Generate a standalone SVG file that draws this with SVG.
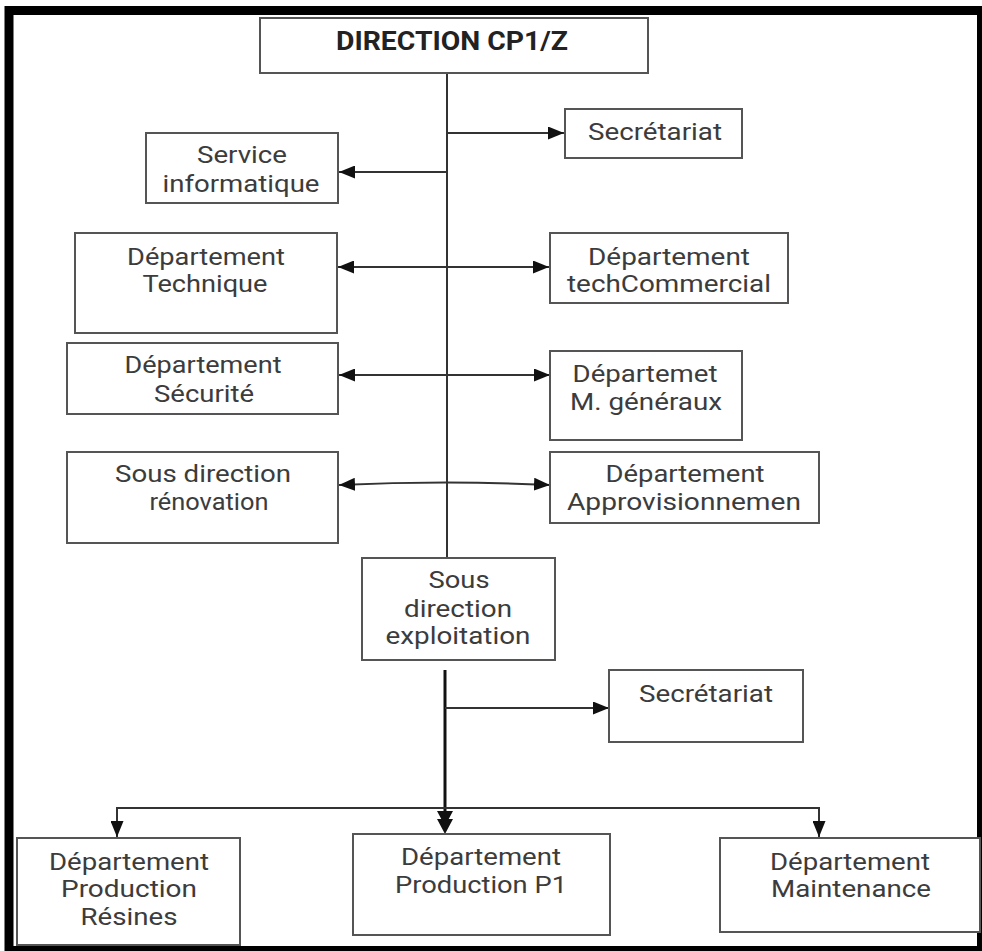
<svg xmlns="http://www.w3.org/2000/svg" width="982" height="951" viewBox="0 0 982 951">
<style>
.box{fill:#fff;stroke:#555;stroke-width:2}
.t{font-family:Roboto,"Liberation Sans",sans-serif;font-size:23px;fill:#3c3c3c;text-anchor:middle}
.title{font-family:Roboto,"Liberation Sans",sans-serif;font-size:25px;font-weight:700;fill:#222;text-anchor:middle}
.c{fill:none;stroke:#333;stroke-width:2}
.ct{fill:none;stroke:#111;stroke-width:3}
</style>
<defs>
<marker id="ah" viewBox="0 0 10 10" preserveAspectRatio="none" refX="10" refY="5" markerWidth="8" markerHeight="6.5" markerUnits="strokeWidth" orient="auto-start-reverse">
<path d="M0,0 L10,5 L0,10 Z" fill="#111"/>
</marker>
</defs>
<rect x="9" y="10.5" width="972.5" height="940" fill="#fff" stroke="#000" stroke-width="9"/>
<g id="connectors">
<path class="c" d="M447,73 V558"/>
<path class="c" d="M447,133 H564" marker-end="url(#ah)"/>
<path class="c" d="M447,172 H339" marker-end="url(#ah)"/>
<path class="c" d="M338,267 H549" marker-start="url(#ah)" marker-end="url(#ah)"/>
<path class="c" d="M339,375 H550" marker-start="url(#ah)" marker-end="url(#ah)"/>
<path class="c" d="M339,485 Q447,480 550,485" marker-start="url(#ah)" marker-end="url(#ah)"/>
<path class="ct" d="M445,670 V820"/>
<path class="c" d="M445,708 H609" marker-end="url(#ah)"/>
<path class="c" d="M117,837 V808 H819 V837" marker-start="url(#ah)" marker-end="url(#ah)"/>
<path d="M437,811 L453,811 L445,826 Z M437,819 L453,819 L445,834 Z" fill="#111"/>
</g>
<g id="n-direction"><rect class="box" x="260" y="18" width="388" height="55"/><text class="title" x="452" y="50" textLength="232" lengthAdjust="spacingAndGlyphs">DIRECTION CP1/Z</text></g>
<g id="n-secretariat1"><rect class="box" x="565" y="109" width="177" height="49"/><text class="t" x="655" y="140" textLength="134" lengthAdjust="spacingAndGlyphs">Secrétariat</text></g>
<g id="n-informatique"><rect class="box" x="146" y="133" width="192" height="70"/><text class="t" x="242" y="163" textLength="90" lengthAdjust="spacingAndGlyphs">Service</text><text class="t" x="241" y="192" textLength="157" lengthAdjust="spacingAndGlyphs">informatique</text></g>
<g id="n-technique"><rect class="box" x="75" y="233" width="262" height="100"/><text class="t" x="206" y="265" textLength="158" lengthAdjust="spacingAndGlyphs">Département</text><text class="t" x="205" y="292" textLength="125" lengthAdjust="spacingAndGlyphs">Technique</text></g>
<g id="n-commercial"><rect class="box" x="550" y="233" width="238" height="70"/><text class="t" x="669" y="265" textLength="162" lengthAdjust="spacingAndGlyphs">Département</text><text class="t" x="669" y="292" textLength="204" lengthAdjust="spacingAndGlyphs">techCommercial</text></g>
<g id="n-securite"><rect class="box" x="67" y="343" width="271" height="71"/><text class="t" x="203" y="373" textLength="157" lengthAdjust="spacingAndGlyphs">Département</text><text class="t" x="204" y="402" textLength="100" lengthAdjust="spacingAndGlyphs">Sécurité</text></g>
<g id="n-generaux"><rect class="box" x="550" y="351" width="192" height="89"/><text class="t" x="645" y="382" textLength="145" lengthAdjust="spacingAndGlyphs">Départemet</text><text class="t" x="646" y="410" textLength="152" lengthAdjust="spacingAndGlyphs">M. généraux</text></g>
<g id="n-renovation"><rect class="box" x="67" y="452" width="271" height="91"/><text class="t" x="203" y="482" textLength="176" lengthAdjust="spacingAndGlyphs">Sous direction</text><text class="t" x="209" y="510" textLength="119" lengthAdjust="spacingAndGlyphs">rénovation</text></g>
<g id="n-approv"><rect class="box" x="550" y="452" width="269" height="71"/><text class="t" x="685" y="482" textLength="159" lengthAdjust="spacingAndGlyphs">Département</text><text class="t" x="684" y="510" textLength="234" lengthAdjust="spacingAndGlyphs">Approvisionnemen</text></g>
<g id="n-exploitation"><rect class="box" x="362" y="558" width="193" height="102"/><text class="t" x="459" y="588" textLength="61" lengthAdjust="spacingAndGlyphs">Sous</text><text class="t" x="458" y="617" textLength="108" lengthAdjust="spacingAndGlyphs">direction</text><text class="t" x="458" y="644" textLength="145" lengthAdjust="spacingAndGlyphs">exploitation</text></g>
<g id="n-secretariat2"><rect class="box" x="609" y="670" width="194" height="72"/><text class="t" x="706" y="702" textLength="134" lengthAdjust="spacingAndGlyphs">Secrétariat</text></g>
<g id="n-resines"><rect class="box" x="17" y="838" width="223" height="107"/><text class="t" x="129" y="870" textLength="160" lengthAdjust="spacingAndGlyphs">Département</text><text class="t" x="129" y="897" textLength="136" lengthAdjust="spacingAndGlyphs">Production</text><text class="t" x="129" y="925" textLength="97" lengthAdjust="spacingAndGlyphs">Résines</text></g>
<g id="n-p1"><rect class="box" x="353" y="834" width="257" height="101"/><text class="t" x="481" y="865" textLength="160" lengthAdjust="spacingAndGlyphs">Département</text><text class="t" x="481" y="893" textLength="172" lengthAdjust="spacingAndGlyphs">Production P1</text></g>
<g id="n-maintenance"><rect class="box" x="720" y="838" width="260" height="94"/><text class="t" x="850" y="870" textLength="160" lengthAdjust="spacingAndGlyphs">Département</text><text class="t" x="851" y="897" textLength="160" lengthAdjust="spacingAndGlyphs">Maintenance</text></g>
</svg>
